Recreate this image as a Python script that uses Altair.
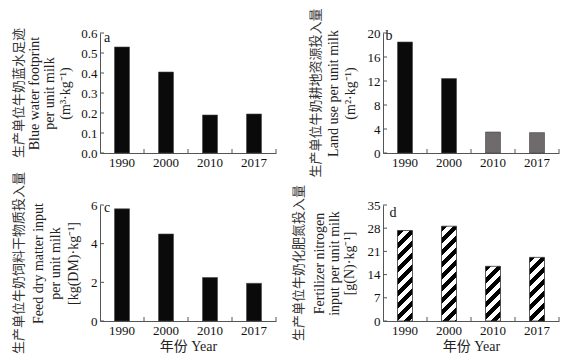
import math
import altair as alt
import pandas as pd

years = ["1990", "2000", "2010", "2017"]
water = [0.53, 0.405, 0.19, 0.195]
land = [18.5, 12.4, 3.5, 3.4]
feed = [5.8, 4.5, 2.25, 1.95]
nitro = [27.3, 28.6, 16.5, 19.2]

water_ticks = [0, 0.1, 0.2, 0.3, 0.4, 0.5, 0.6]
land_ticks = [0, 4, 8, 12, 16, 20]
feed_ticks = [0, 2, 4, 6]
nitro_ticks = [0, 7, 14, 21, 28, 35]

cn_a = "生产单位牛奶蓝水足迹"
cn_b = "生产单位牛奶耕地资源投入量"
cn_c = "生产单位牛奶饲料干物质投入量"
cn_d = "生产单位牛奶化肥氮投入量"
en_a = ["Blue water footprint", "per unit milk", "(m³·kg⁻¹)"]
en_b = ["Land use  per unit milk", "(m²·kg⁻¹)"]
en_c = ["Feed dry matter input", "per unit milk", "[kg(DM)·kg⁻¹]"]
en_d = ["Fertilizer nitrogen", "input per unit milk", "[g(N)·kg⁻¹]"]
x_title = "年份 Year"

colors_a = ["#0a0a0a"] * 4
colors_b = ["#0a0a0a", "#0a0a0a", "#6f6b6c", "#6f6b6c"]
colors_c = ["#0a0a0a"] * 4

FONT = "'Liberation Serif', 'Noto Sans CJK SC', serif"
CJK = "'Noto Sans CJK SC', sans-serif"
W = 176
BAR_W = 15
AXIS_COLOR = "#555555"


def stripe_gradient(w, h, p=8.5):
    period = math.sqrt(2) * p / (w + h)
    stops = []
    t = 0.0
    while t < 1:
        t_mid = min(t + period / 2, 1)
        t_end = min(t + period, 1)
        stops += [
            {"offset": round(t, 5), "color": "#000000"},
            {"offset": round(t_mid, 5), "color": "#000000"},
            {"offset": round(t_mid, 5), "color": "#ffffff"},
            {"offset": round(t_end, 5), "color": "#ffffff"},
        ]
        t += period
    c = (w + h) / (w * w + h * h)
    return {"gradient": "linear", "x1": 0, "y1": 0, "x2": c * w, "y2": c * h, "stops": stops}


def panel(values, ticks, dmax, cn, en, cn_x, en_x, en_lh, letter, lx, ly, height,
          colors=None, xtitle=None, striped=False):
    df = pd.DataFrame({"year": years, "v": values})
    xscale = alt.Scale(paddingInner=0, paddingOuter=0)
    yscale = alt.Scale(domain=[0, dmax], nice=False, zero=True)
    xaxis = alt.Axis(
        title=xtitle, labelAngle=0, ticks=False, domainColor=AXIS_COLOR,
        labelFont=FONT, labelFontSize=13, labelColor="#111", labelPadding=3,
        titleFont=FONT, titleFontSize=14, titleFontWeight="normal", titleColor="#222", titlePadding=2,
    )
    yaxis = alt.Axis(
        values=ticks, title=en, ticks=False, grid=False, domainColor=AXIS_COLOR,
        labelFont=FONT, labelFontSize=13, labelColor="#111", labelPadding=3,
        titleFont=FONT, titleFontSize=14, titleFontWeight="normal", titleColor="#222",
        titleLineHeight=en_lh, titleAngle=270, titleAlign="center", titleBaseline="middle",
        titleX=en_x, titleY=height / 2,
    )
    x = alt.X("year:N", sort=years, scale=xscale, axis=xaxis)
    y = alt.Y("v:Q", scale=yscale, axis=yaxis)
    layers = []
    if striped:
        for yr, v in zip(years, values):
            h = v / dmax * height
            layers.append(
                alt.Chart(df).transform_filter(alt.datum.year == yr)
                .mark_bar(size=BAR_W, fill=stripe_gradient(BAR_W, h), stroke="#333", strokeWidth=0.8)
                .encode(x=x, y=y)
            )
    else:
        df["c"] = colors
        layers.append(
            alt.Chart(df).mark_bar(size=BAR_W, stroke="#444", strokeWidth=0.6)
            .encode(x=x, y=y, fill=alt.Fill("c:N", scale=None))
        )
    ytk = alt.Chart(pd.DataFrame({"v": ticks})).mark_rule(color=AXIS_COLOR, strokeWidth=1).encode(
        y=y, x=alt.value(0), x2=alt.value(4)
    )
    xtk = alt.Chart(pd.DataFrame({"year": years})).mark_rule(color=AXIS_COLOR, strokeWidth=1).encode(
        x=alt.X("year:N", sort=years, scale=xscale, bandPosition=1, axis=xaxis),
        y=alt.value(height), y2=alt.value(height - 4),
    )
    lab = alt.Chart(pd.DataFrame({"l": [letter]})).mark_text(
        font=FONT, fontSize=14, color="#111", align="center", baseline="middle"
    ).encode(text="l:N", x=alt.value(lx), y=alt.value(ly))
    cnt = alt.Chart(pd.DataFrame({"t": [cn]})).mark_text(
        font=CJK, fontSize=13, color="#333", angle=270, align="center", baseline="middle"
    ).encode(text="t:N", x=alt.value(cn_x), y=alt.value(height / 2))
    return alt.layer(*layers, ytk, xtk, lab, cnt).properties(width=W, height=height)


H1 = 120
H2 = 116
a = panel(water, water_ticks, 0.6, cn_a, en_a, -81, -66, 15.5, "a", 7, 5, H1, colors=colors_a)
b = panel(land, land_ticks, 20, cn_b, en_b, -67, -50, 17, "b", 6, 3, H1, colors=colors_b)
c = panel(feed, feed_ticks, 6, cn_c, en_c, -81, -62, 17.5, "c", 7, 3, H2, colors=colors_c, xtitle=x_title)
d = panel(nitro, nitro_ticks, 35, cn_d, en_d, -84, -64, 15, "d", 10, 8, H2, xtitle=x_title, striped=True)

chart = alt.concat(a, b, c, d, columns=2, spacing={"row": -7, "column": 16}).properties(
    padding={"left": 5, "top": 0, "right": 0, "bottom": 0}
).configure_view(stroke=None)

chart.save("out.html", embed_options={"renderer": "svg", "actions": False})
